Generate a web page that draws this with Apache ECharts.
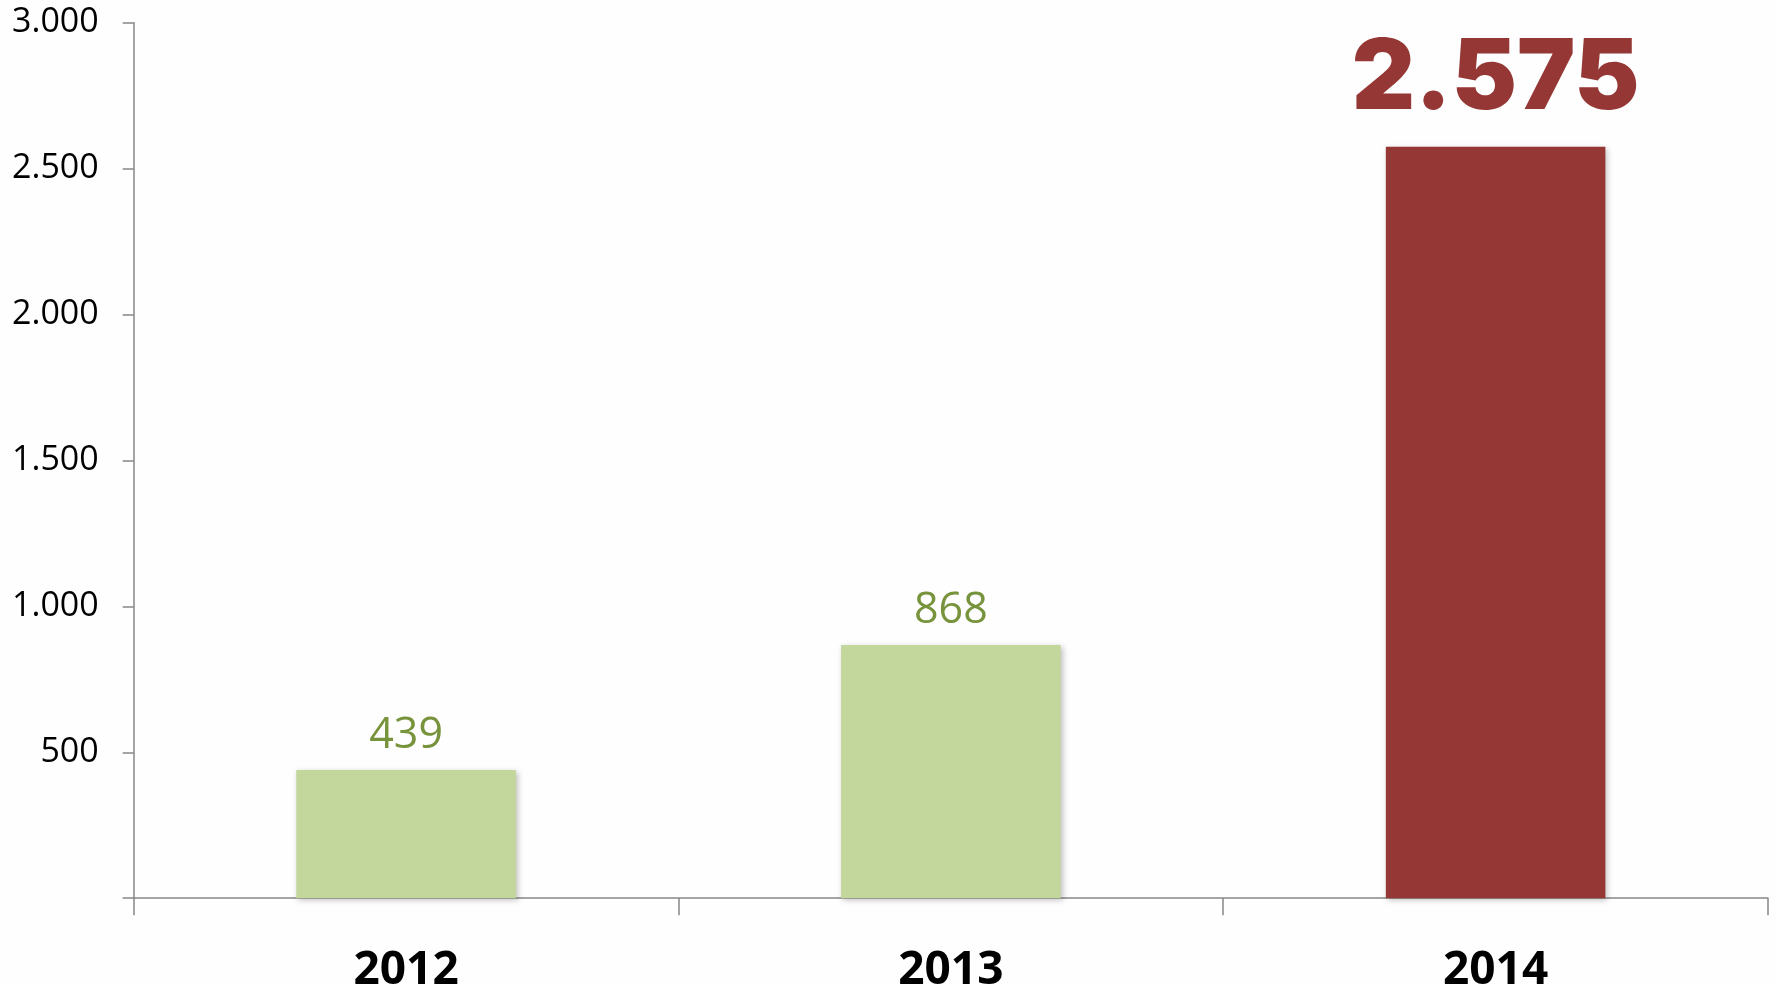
<!DOCTYPE html>
<html>
<head>
<meta charset="utf-8">
<script src="https://cdn.jsdelivr.net/npm/echarts@6/dist/echarts.min.js"></script>
<style>
html,body{margin:0;padding:0;background:#fefefe;}
#main{width:1776px;height:986px;}
</style>
</head>
<body>
<div id="main"></div>
<script>
var categories = ['2012', '2013', '2014'];
var values = [439, 868, 2575];
var yTicks = [0, 500, 1000, 1500, 2000, 2500, 3000];

function fmt(v) {
  return String(v).replace(/\B(?=(\d{3})+(?!\d))/g, '.');
}

var green = { bar: '#C3D69B', label: '#77933C' };
var red = { bar: '#953735', label: '#953735' };

var seriesData = values.map(function (v, i) {
  var last = i === values.length - 1;
  var c = last ? red : green;
  return {
    value: v,
    itemStyle: { color: c.bar },
    label: last ? {
      color: c.label, fontFamily: 'Inter', fontWeight: 900, fontSize: 98, distance: 18
    } : {
      color: c.label, fontFamily: 'Open Sans', fontWeight: 400, fontSize: 43, distance: 13
    }
  };
});

var chart = echarts.init(document.getElementById('main'), null, { renderer: 'canvas' });
chart.setOption({
  backgroundColor: '#fefefe',
  animation: false,
  grid: { left: 133.7, right: 8, top: 22.7, bottom: 87.8, containLabel: false, outerBoundsMode: 'none' },
  xAxis: {
    type: 'category',
    data: categories,
    boundaryGap: true,
    axisLine: { lineStyle: { color: '#868686', width: 1.5 } },
    axisTick: { show: true, length: 17, lineStyle: { color: '#868686', width: 1.5 } },
    axisLabel: {
      color: '#000', fontFamily: 'Open Sans', fontWeight: 700, fontSize: 46, margin: 50
    }
  },
  yAxis: {
    type: 'value',
    min: yTicks[0],
    max: yTicks[yTicks.length - 1],
    interval: yTicks[1] - yTicks[0],
    splitLine: { show: false },
    axisLine: { show: true, lineStyle: { color: '#868686', width: 1.5 } },
    axisTick: { show: true, length: 11, lineStyle: { color: '#868686', width: 1.5 } },
    axisLabel: {
      color: '#000', fontFamily: 'Open Sans', fontSize: 34, margin: 35,
      formatter: function (v) { return v === 0 ? '' : fmt(v); }
    }
  },
  series: [{
    type: 'bar',
    data: seriesData,
    barWidth: '40.3%',
    itemStyle: {
      shadowBlur: 6, shadowOffsetX: 2, shadowOffsetY: 2, shadowColor: 'rgba(0,0,0,0.25)'
    },
    label: {
      show: true,
      position: 'top',
      formatter: function (p) { return fmt(p.value); }
    }
  }]
});
</script>
</body>
</html>
